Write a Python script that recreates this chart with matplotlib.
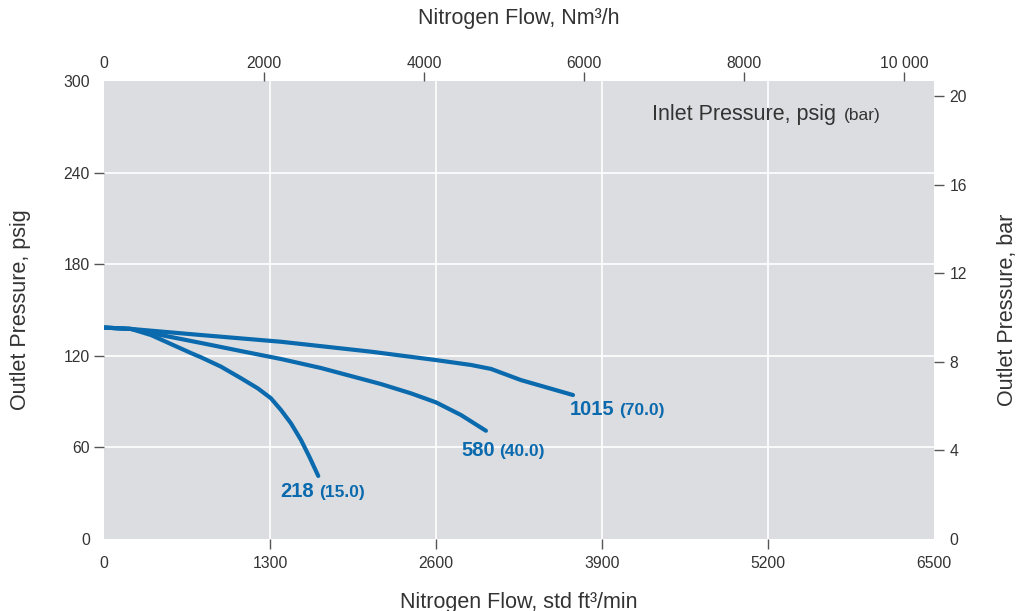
import matplotlib
matplotlib.use('Agg')
import matplotlib.pyplot as plt
from matplotlib.ticker import FuncFormatter
from matplotlib.offsetbox import TextArea, HPacker, AnnotationBbox

plt.rcParams['font.family'] = ['Liberation Sans', 'DejaVu Sans']

# flow in std ft3/min, outlet pressure in psig
flow_1015 = [0, 211, 760, 1386, 2091, 2600, 2874, 3031, 3265, 3673]
psig_1015 = [138.5, 137.6, 133.6, 129.2, 122.7, 117.2, 114.0, 111.4, 104.1, 94.3]

flow_580 = [0, 211, 368, 760, 1073, 1386, 1699, 2169, 2404, 2600, 2796, 2991]
psig_580 = [138.5, 137.6, 134.9, 128.4, 123.1, 117.9, 112.0, 101.5, 95.4, 89.5, 81.2, 70.9]

flow_218 = [0, 211, 368, 681, 760, 916, 1073, 1204, 1307, 1386, 1464, 1543, 1608, 1678]
psig_218 = [138.5, 137.6, 133.6, 121.8, 119.0, 112.9, 105.3, 98.7, 92.2, 84.5, 75.8, 64.8, 53.9, 41.3]

inlet_psig = ["1015", "580", "218"]
inlet_bar = ["(70.0)", "(40.0)", "(15.0)"]
series = [(flow_1015, psig_1015), (flow_580, psig_580), (flow_218, psig_218)]
# label offset from the curve end, pixels
label_offsets = [(-3, -24), (-25, -29), (-38, -25)]

x_ticks = [0, 1300, 2600, 3900, 5200, 6500]
y_ticks = [0, 60, 120, 180, 240, 300]
nm3_ticks = [0, 2000, 4000, 6000, 8000, 10000]
bar_ticks = [0, 4, 8, 12, 16, 20]

SCFM_TO_NM3H = 1.596
PSI_PER_BAR = 14.5

blue = '#0a6aad'
txt = '#333333'
tick_col = '#555555'


def nm3_fmt(v, pos):
    if v >= 10000:
        return f"{v:,.0f}".replace(',', ' ')
    return f"{v:.0f}"


def two_part(big, small, big_size, small_size, color, weight, sep):
    return HPacker(children=[
        TextArea(big, textprops=dict(fontsize=big_size, color=color, fontweight=weight)),
        TextArea(small, textprops=dict(fontsize=small_size, color=color, fontweight=weight)),
    ], align='baseline', pad=0, sep=sep)


fig = plt.figure(figsize=(10.24, 6.11), dpi=100)
ax = fig.add_axes([104 / 1024, 72 / 611, 830 / 1024, 458 / 611])
ax.set_facecolor('#dcdde0')
for s in ax.spines.values():
    s.set_visible(False)

ax.set_xlim(0, 6500)
ax.set_ylim(0, 300)
ax.set_xticks(x_ticks)
ax.set_yticks(y_ticks)
ax.grid(True, color='white', linewidth=1.2)
ax.set_axisbelow(True)
ax.tick_params(axis='x', direction='out', length=7, width=1, color=tick_col,
               labelsize=11.3, labelcolor=txt, pad=5)
ax.tick_params(axis='y', direction='out', length=7, width=1, color=tick_col,
               labelsize=11.3, labelcolor=txt, pad=3)

# no tick marks / grid lines at the plot edges
for axis in (ax.xaxis, ax.yaxis):
    ticks = axis.get_major_ticks()
    for t in (ticks[0], ticks[-1]):
        t.tick1line.set_visible(False)
        t.gridline.set_visible(False)

for (fx, fy), num, paren, off in zip(series, inlet_psig, inlet_bar, label_offsets):
    ax.plot(fx, fy, color=blue, linewidth=3, solid_capstyle='round',
            solid_joinstyle='round')
    box = two_part(num, paren, 14.5, 12.5, blue, 'bold', 3.5)
    ax.add_artist(AnnotationBbox(box, (fx[-1], fy[-1]), xybox=off,
                                 boxcoords='offset pixels', box_alignment=(0, 0),
                                 frameon=False, pad=0))

inlet_box = two_part("Inlet Pressure, psig", "(bar)", 15.5, 12.5, txt, 'normal', 6)
ax.add_artist(AnnotationBbox(inlet_box, (0.66, 0.905), xycoords='axes fraction',
                             box_alignment=(0, 0), frameon=False, pad=0))

ax.set_xlabel("Nitrogen Flow, std ft³/min", fontsize=15.5, color=txt)
ax.xaxis.set_label_coords(0.5, -0.115)
ax.set_ylabel("Outlet Pressure, psig", fontsize=15.5, color=txt)
ax.yaxis.set_label_coords(-0.0885, 0.5)

# top axis: Nm3/h
top = ax.secondary_xaxis('top', functions=(lambda v: v * SCFM_TO_NM3H,
                                           lambda v: v / SCFM_TO_NM3H))
top.set_xticks(nm3_ticks)
top.xaxis.set_major_formatter(FuncFormatter(nm3_fmt))
top.tick_params(direction='out', length=6.5, width=1, color=tick_col,
                labelsize=11.3, labelcolor=txt, pad=1)
top.get_xaxis().get_major_ticks()[0].tick2line.set_visible(False)
top.set_xlabel("Nitrogen Flow, Nm³/h", fontsize=15.5, color=txt)
top.xaxis.set_label_coords(0.5, 1.1245, transform=ax.transAxes)

# right axis: bar
right = ax.secondary_yaxis('right', functions=(lambda v: v / PSI_PER_BAR,
                                               lambda v: v * PSI_PER_BAR))
right.set_yticks(bar_ticks)
right.tick_params(direction='out', length=7, width=1, color=tick_col,
                  labelsize=11.3, labelcolor=txt, pad=4)
right.get_yaxis().get_major_ticks()[0].tick2line.set_visible(False)
right.set_ylabel("Outlet Pressure, bar", fontsize=15.5, color=txt)
right.yaxis.set_label_coords(1.076, 0.5, transform=ax.transAxes)

for sec in (top, right):
    for s in sec.spines.values():
        s.set_visible(False)

fig.savefig('out.png', dpi=100)
